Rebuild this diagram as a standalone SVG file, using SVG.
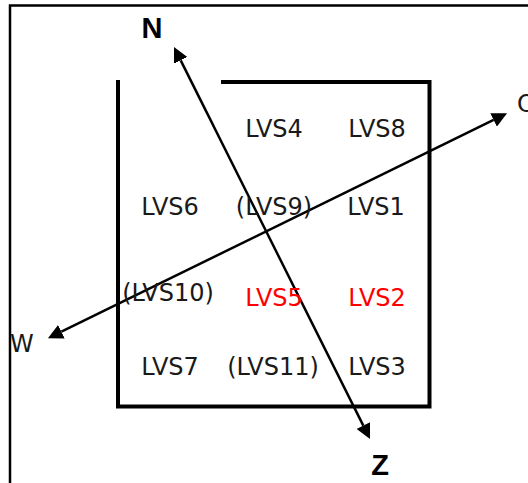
<svg xmlns="http://www.w3.org/2000/svg" width="528" height="483" viewBox="0 0 528 483">
<style>
.frame{fill:none;stroke:#000;stroke-width:2.5}
.box{fill:none;stroke:#000;stroke-width:4;stroke-linejoin:miter}
.conn{fill:none;stroke:#000;stroke-width:2.5;marker-start:url(#ah);marker-end:url(#ah)}
.lbl{font-family:"DejaVu Sans",Verdana,sans-serif;font-size:24px;fill:#1a1a1a;text-anchor:middle}
.red{fill:#ff0000}
.dir{font-family:"Liberation Sans",Arial,sans-serif;font-size:29px;font-weight:bold;fill:#000;text-anchor:middle}
.dirn{font-family:"DejaVu Sans",Verdana,sans-serif;font-size:24px;fill:#1a1a1a}
</style>
<defs>
<marker id="ah" viewBox="0 0 15 15" refX="0" refY="7.5" markerWidth="15" markerHeight="15" markerUnits="userSpaceOnUse" orient="auto-start-reverse">
<path d="M0,0 L15,7.5 L0,15 z" fill="#000"/>
</marker>
</defs>
<g id="frame">
<path class="frame" d="M10,483 V5.5 H528"/>
</g>
<g id="box">
<path class="box" d="M118,80 V406.5 H429.5 V82 H221"/>
</g>
<g id="connectors">
<line class="conn" x1="180.7" y1="60.4" x2="363.3" y2="425.6"/>
<line class="conn" x1="61.4" y1="331.7" x2="493.6" y2="119.9"/>
</g>
<g id="N"><text class="dir" x="152" y="38">N</text></g>
<g id="Z"><text class="dir" x="380" y="475">Z</text></g>
<g id="O"><text class="dirn" x="517" y="112">O</text></g>
<g id="W"><text class="dirn" x="10" y="352">W</text></g>
<g id="LVS4"><text class="lbl" x="274" y="137">LVS4</text></g>
<g id="LVS8"><text class="lbl" x="377" y="137">LVS8</text></g>
<g id="LVS6"><text class="lbl" x="170" y="215">LVS6</text></g>
<g id="LVS9"><text class="lbl" x="274" y="215">(LVS9)</text></g>
<g id="LVS1"><text class="lbl" x="376" y="215">LVS1</text></g>
<g id="LVS10"><text class="lbl" x="168" y="301">(LVS10)</text></g>
<g id="LVS5"><text class="lbl red" x="274" y="306">LVS5</text></g>
<g id="LVS2"><text class="lbl red" x="377" y="306">LVS2</text></g>
<g id="LVS7"><text class="lbl" x="170" y="375">LVS7</text></g>
<g id="LVS11"><text class="lbl" x="273" y="375">(LVS11)</text></g>
<g id="LVS3"><text class="lbl" x="377" y="375">LVS3</text></g>
</svg>
